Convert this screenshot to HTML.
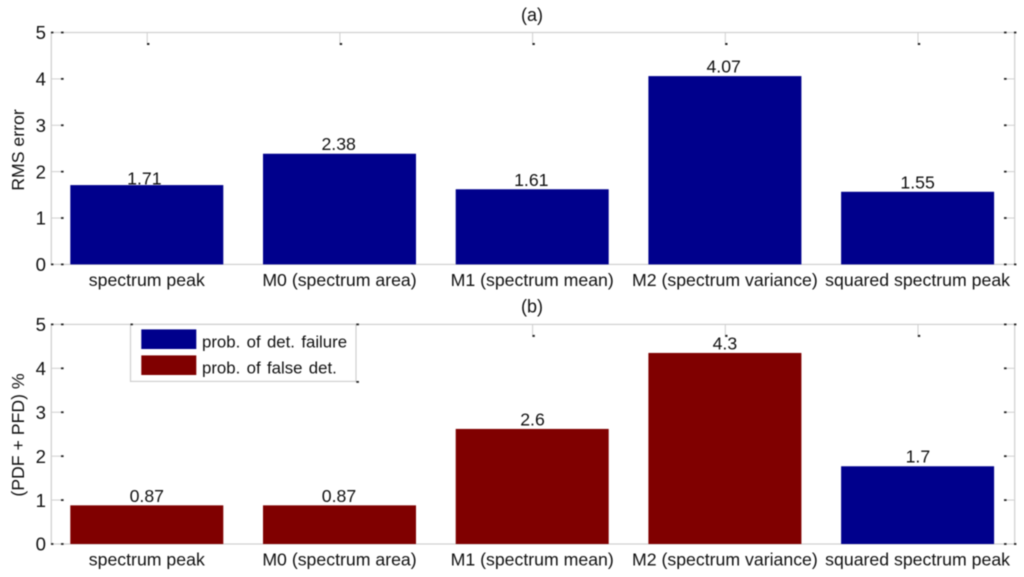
<!DOCTYPE html>
<html lang="en">
<head>
<meta charset="utf-8">
<title>RMS error and detection probability</title>
<style>
html,body{margin:0;padding:0;background:#fff;width:1024px;height:577px;overflow:hidden}
svg{display:block;filter:blur(.4px)}
text{font-family:"Liberation Sans",Arial,sans-serif;font-size:17.4px;fill:#111}
text.val{font-size:17.7px}
text.cat{font-size:17.7px}
text.num{font-size:18.6px}
text.ytitle{font-size:17.7px}
text.title{font-size:18px}
text.leg{font-size:16.8px;word-spacing:1.7px}
</style>
</head>
<body>
<svg id="chart" width="1024" height="577" viewBox="0 0 1024 577" xmlns="http://www.w3.org/2000/svg"></svg>
<script>
const categories = ["spectrum peak","M0 (spectrum area)","M1 (spectrum mean)","M2 (spectrum variance)","squared spectrum peak"];
const yTicks = [0,1,2,3,4,5];
const rmsValues = [1.71,2.386,1.62,4.06,1.566];
const rmsLabels = ["1.71","2.38","1.61","4.07","1.55"];
const falseDetValues = [0.88,0.88,2.62,4.35,0];
const detFailureValues = [0,0,0,0,1.77];
const errorLabels = ["0.87","0.87","2.6","4.3","1.7"];
const legendLabels = ["prob. of det. failure","prob. of false det."];

const NS = "http://www.w3.org/2000/svg";
const svg = document.getElementById("chart");
const BLUE = "#00008c", RED = "#800000", GRAY = "#cfcfcf", DOT = "#222";
const LEFT = 51.3, RIGHT = 1014.7;
const CENTER0 = 146.8, STEP = 192.7, BAR_W = 153;

function xAt(i){ return CENTER0 + STEP * i; }

function shape(tag, parent, props){
  const el = document.createElementNS(NS, tag);
  for (const k in props) el.setAttribute(k, props[k]);
  parent.appendChild(el);
  return el;
}
function label(parent, str, x, y, anchor, cls, extra){
  const el = shape("text", parent, Object.assign({x:x, y:y, "text-anchor":anchor, "class":cls}, extra || {}));
  el.textContent = str;
  return el;
}
function tickMark(parent, x1, y1, x2, y2, dx, dy, dw, dh){
  const line = shape("line", parent, {x1:x1, y1:y1, x2:x2, y2:y2, stroke:GRAY, "stroke-width":1});
  
  
  const dot = shape("rect", parent, {x:dx, y:dy, width:dw, height:dh, fill:DOT});
  
  
}

function drawPanel(name, top, bottom, titleText, titleY, yTitle, yTitleCenter, stacks, labels, lifts, nudges, hideTopTicks){
  const g = shape("g", svg, {});
  
  
  const yAt = v => bottom - (bottom - top) * v / 5;

  const frame = shape("rect", g, {x:LEFT, y:top, width:RIGHT-LEFT, height:bottom-top, fill:"none", stroke:GRAY, "stroke-width":1.2});
  
  

  const title = label(g, titleText, 532, titleY, "middle", "title");
  
  

  const yt = label(g, yTitle, 0, 0, "middle", "ytitle", {transform:"translate(18 " + yTitleCenter + ") rotate(-90) translate(0 6)"});
  
  

  yTicks.forEach(t => {
    const y = yAt(t);
    tickMark(g, LEFT, y, 61, y, 61, y - 0.9, 2.6, 1.8);
    tickMark(g, RIGHT, y, 1006, y, 1004, y - 0.9, 2.6, 1.8);
    const tl = label(g, String(t), 46, y + 6.7, "end", "num");
    
    
  });
  shape("rect", g, {x:51, y:top-0.9, width:2.4, height:1.8, fill:DOT});
  shape("rect", g, {x:51, y:bottom-0.9, width:2.4, height:1.8, fill:DOT});
  shape("rect", g, {x:1014, y:top-0.9, width:2.4, height:1.8, fill:DOT});
  shape("rect", g, {x:1014, y:bottom-0.9, width:2.4, height:1.8, fill:DOT});

  categories.forEach((c, i) => {
    const cx = xAt(i);
    if (!hideTopTicks[i]) {
      tickMark(g, cx + 0.4, top, cx + 0.4, top + 10.5, cx + 0.2, top + 10.5, 2.4, 2);
    }
    let base = 0;
    stacks.forEach(s => {
      const v = s.values[i];
      if (v > 0) {
        const bar = shape("rect", g, {x:cx - BAR_W/2, y:yAt(base + v), width:BAR_W, height:yAt(base) - yAt(base + v), fill:s.color});
        
        
      }
      base += v;
    });
    const vl = label(g, labels[i], cx + nudges[i], yAt(base) - lifts[i], "middle", "val");
    
    
    const xl = label(g, c, cx, bottom + 21.4, "middle", "cat");
    
    
  });
}

drawPanel("panel-a", 32.5, 264.4, "(a)", 20.8, "RMS error", 150,
  [{values:rmsValues, color:BLUE}], rmsLabels, [0.6,3.5,3.2,3.5,3.2], [-2.4,-0.8,-0.9,-1.2,0],
  [false,false,false,false,false]);

drawPanel("panel-b", 324.4, 544, "(b)", 312.3, "(PDF + PFD) %", 435,
  [{values:falseDetValues, color:RED},{values:detFailureValues, color:BLUE}], errorLabels, [3.5,3.5,3.5,3.6,3.6], [0,-0.5,0.3,0,0.3],
  [true,true,false,false,false]);

/* legend */
const legend = shape("g", svg, {});


const legendBox = shape("rect", legend, {x:130.5, y:324.4, width:225.5, height:57, fill:"#fff", stroke:GRAY, "stroke-width":1.2});


[BLUE, RED].forEach((color, i) => {
  const swatch = shape("rect", legend, {x:141.3, y:329.4 + 26 * i, width:55, height:19.6, fill:color});
  
  
  const entry = label(legend, legendLabels[i], 202, 347.6 + 26 * i, "start", "leg");
  
  
});
shape("rect", legend, {x:130.5, y:323.5, width:2.4, height:1.8, fill:DOT});
shape("rect", legend, {x:356.3, y:323.5, width:2.6, height:1.8, fill:DOT});
shape("rect", legend, {x:356.3, y:381, width:2.6, height:1.8, fill:DOT});
</script>
</body>
</html>
